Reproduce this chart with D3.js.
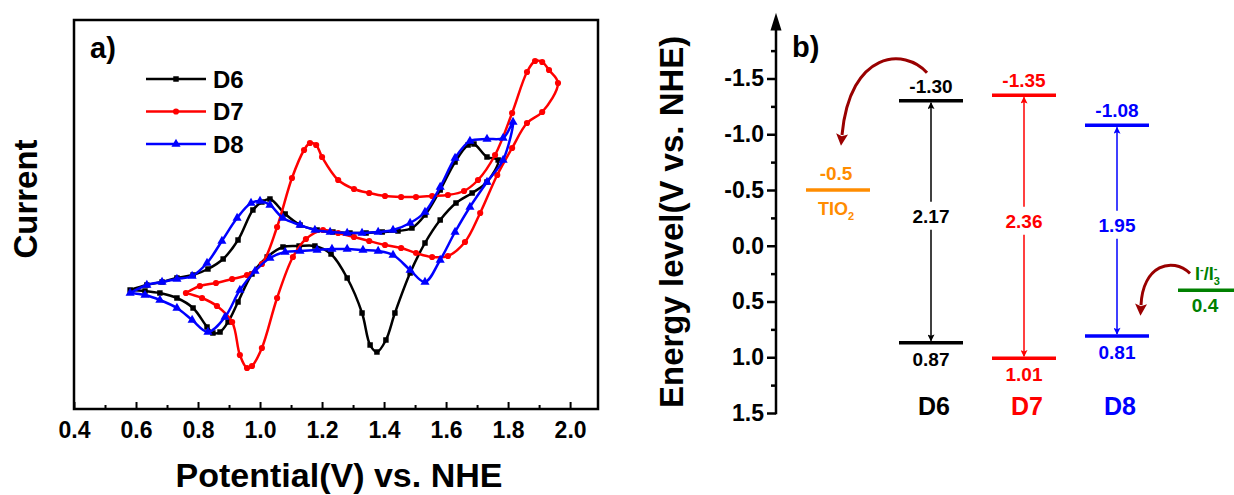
<!DOCTYPE html>
<html lang="en">
<head>
<meta charset="UTF-8">
<title>Cyclic voltammetry and energy levels</title>
<script src="https://d3js.org/d3.v7.min.js"></script>
<style>
  body { margin: 0; background: #fff; }
  svg text { font-family: "Liberation Sans", Arial, sans-serif; font-weight: bold; }
</style>
</head>
<body>
<div id="chart"></div>
<script>
// ---- panel a data: cyclic voltammograms (forward scan then reverse, closed loop)
const seriesNames = ["D6", "D7", "D8"];
const seriesColors = ["#000000", "#ff0000", "#0000ff"];
const seriesShapes = [d3.symbolSquare, d3.symbolCircle, d3.symbolTriangle];

const d6Potential = [0.581,0.635,0.684,0.732,0.784,0.832,0.881,0.929,0.977,1.006,1.032,1.081,1.129,1.184,1.235,1.290,1.342,1.394,1.445,1.490,1.532,1.581,1.629,1.671,1.690,1.732,1.768,
  1.732,1.684,1.632,1.581,1.532,1.484,1.435,1.406,1.377,1.355,1.329,1.281,1.229,1.177,1.126,1.074,1.023,0.974,0.929,0.897,0.871,0.848,0.829,0.784,0.732,0.677,0.629,0.581];
const d6Current = [11.9,12.4,12.7,13.1,13.4,14.0,15.0,16.9,19.9,20.7,21.0,19.5,18.4,17.9,17.7,17.6,17.6,17.7,17.8,18.1,19.4,21.9,24.7,26.4,26.5,25.2,24.9,
  22.7,21.6,20.6,18.9,16.6,13.6,9.6,6.9,5.7,6.4,9.6,13.1,15.5,16.3,16.3,16.2,15.2,13.5,10.7,8.7,7.7,7.6,8.2,10.1,11.1,11.6,11.8,11.9];

const d7Potential = [0.761,0.806,0.858,0.910,0.958,1.006,1.055,1.103,1.142,1.161,1.181,1.200,1.252,1.303,1.352,1.403,1.455,1.503,1.555,1.606,1.658,1.703,1.758,1.813,1.861,1.887,1.910,1.932,1.961,
  1.910,1.861,1.813,1.765,1.710,1.661,1.606,1.555,1.503,1.455,1.403,1.352,1.303,1.252,1.203,1.148,1.106,1.055,1.006,0.974,0.958,0.935,0.910,0.861,0.813,0.761];
const d7Current = [11.6,12.3,12.6,13.0,13.4,14.5,18.2,23.1,25.9,26.6,26.4,25.2,22.9,22.0,21.6,21.3,21.2,21.2,21.3,21.4,21.8,22.9,25.4,29.6,33.7,34.8,34.7,33.9,32.6,
  29.7,28.6,26.1,23.4,19.6,16.7,15.3,15.2,15.6,16.1,16.4,16.8,17.2,17.6,17.9,17.0,15.2,11.1,6.1,4.3,4.1,5.4,8.7,10.3,11.1,11.6];

const d8Potential = [0.581,0.635,0.684,0.732,0.781,0.829,0.877,0.926,0.971,1.000,1.032,1.074,1.129,1.177,1.226,1.281,1.329,1.381,1.429,1.484,1.532,1.581,1.629,1.677,1.732,1.784,1.816,
  1.784,1.732,1.677,1.629,1.581,1.532,1.484,1.429,1.381,1.332,1.281,1.232,1.184,1.129,1.081,1.032,0.984,0.935,0.887,0.832,0.781,0.732,0.677,0.629,0.581];
const d8Current = [11.6,12.4,12.7,13.0,13.3,14.6,16.8,19.1,20.6,20.8,20.4,19.1,18.4,17.9,17.7,17.6,17.6,17.7,17.9,18.6,19.7,22.2,25.1,26.8,27.0,27.1,28.7,
  24.9,22.7,20.2,17.7,14.9,12.7,13.9,15.4,15.8,15.9,16.0,16.0,15.9,15.8,15.7,15.1,13.8,11.9,9.2,7.7,8.9,10.1,10.9,11.4,11.6];

const potentialTicks = [0.4, 0.6, 0.8, 1.0, 1.2, 1.4, 1.6, 1.8, 2.0];
const potentialMinorTicks = [0.5, 0.7, 0.9, 1.1, 1.3, 1.5, 1.7, 1.9];

// ---- panel b data: energy levels (V vs. NHE)
const dyeNames = ["D6", "D7", "D8"];
const dyeLumo = [-1.30, -1.35, -1.08];
const dyeHomo = [0.87, 1.01, 0.81];
const dyeGap = ["2.17", "2.36", "1.95"];
const tio2Level = -0.5;
const redoxLevel = 0.4;
const energyTicks = [-1.5, -1.0, -0.5, 0.0, 0.5, 1.0, 1.5];
const energyMinorTicks = [-1.75, -1.25, -0.75, -0.25, 0.25, 0.75, 1.25];

const width = 1234, height = 495;
const svg = d3.select("#chart").append("svg")
  .attr("width", width).attr("height", height);

// ================= panel a =================
const xA = d3.scaleLinear().domain([0.4, 2.09]).range([74, 598]);
const yA = d3.scaleLinear().domain([0, 38.9]).range([409, 20]);

const gA = svg.append("g");

gA.append("rect")
  .attr("x", xA.range()[0]).attr("y", yA.range()[1])
  .attr("width", xA.range()[1] - xA.range()[0])
  .attr("height", yA.range()[0] - yA.range()[1])
  .attr("fill", "none").attr("stroke", "#000").attr("stroke-width", 2.5);

const axA = gA.append("g")
  .attr("transform", `translate(0,${yA.range()[0]})`)
  .call(d3.axisBottom(xA).tickValues(potentialTicks).tickSize(-7).tickPadding(13)
    .tickFormat(d => d.toFixed(1)));
axA.select(".domain").remove();
axA.selectAll(".tick line").attr("stroke-width", 2);
axA.selectAll(".tick text").attr("font-size", 23).attr("fill", "#000");

const axAm = gA.append("g")
  .attr("transform", `translate(0,${yA.range()[0]})`)
  .call(d3.axisBottom(xA).tickValues(potentialMinorTicks).tickSize(-4).tickFormat(""));
axAm.select(".domain").remove();
axAm.selectAll(".tick line").attr("stroke-width", 2);

const series = [
  {p: d6Potential, c: d6Current},
  {p: d7Potential, c: d7Current},
  {p: d8Potential, c: d8Current}
];

const line = d3.line()
  .x(d => xA(d[0])).y(d => yA(d[1]))
  .curve(d3.curveCatmullRom.alpha(0.5));

series.forEach((s, i) => {
  const pts = s.p.map((v, k) => [v, s.c[k]]);
  gA.append("path")
    .datum(pts)
    .attr("d", line)
    .attr("fill", "none")
    .attr("stroke", seriesColors[i])
    .attr("stroke-width", 2.5);
  const sym = d3.symbol().type(seriesShapes[i]).size(i === 2 ? 36 : 30);
  gA.append("g").selectAll("path")
    .data(pts.slice(0, -1))
    .join("path")
    .attr("d", sym)
    .attr("transform", d => `translate(${xA(d[0])},${yA(d[1])})`)
    .attr("fill", seriesColors[i]);
});

// legend
const legend = gA.append("g").attr("transform", "translate(146,79)");
seriesNames.forEach((name, i) => {
  const row = legend.append("g").attr("transform", `translate(0,${i * 32.5})`);
  row.append("line").attr("x1", 0).attr("x2", 60)
    .attr("stroke", seriesColors[i]).attr("stroke-width", 2.5);
  row.append("path")
    .attr("d", d3.symbol().type(seriesShapes[i]).size(i === 2 ? 36 : 30))
    .attr("transform", "translate(30,0)")
    .attr("fill", seriesColors[i]);
  row.append("text").attr("x", 67).attr("y", 8.5)
    .attr("font-size", 24).text(name);
});

gA.append("text").attr("x", 90).attr("y", 58).attr("font-size", 29).text("a)");

gA.append("text")
  .attr("x", (xA.range()[0] + xA.range()[1]) / 2 + 3).attr("y", 487)
  .attr("text-anchor", "middle").attr("font-size", 34)
  .text("Potential(V) vs. NHE");

gA.append("text")
  .attr("transform", "translate(37,199) rotate(-90)")
  .attr("text-anchor", "middle").attr("font-size", 33)
  .text("Current");

// ================= panel b =================
const yB = d3.scaleLinear().domain([-1.5, 1.5]).range([78.5, 413]);
const xB = d3.scalePoint().domain(["TiO2", ...dyeNames, "redox"]).range([838, 1210]);
const axisX = 776;
const barW = 64;

const gB = svg.append("g");
const defs = svg.append("defs");

function arrowMarker(id, color, w, h, ref) {
  defs.append("marker")
    .attr("id", id)
    .attr("viewBox", "0 0 10 10")
    .attr("refX", ref).attr("refY", 5)
    .attr("markerUnits", "userSpaceOnUse")
    .attr("markerWidth", w).attr("markerHeight", h)
    .attr("orient", "auto-start-reverse")
    .append("path").attr("d", "M0,0 L10,5 L0,10 L2,5 z").attr("fill", color);
}
dyeNames.forEach((n, i) => arrowMarker("gap" + i, seriesColors[i], 9, 7, 9));
arrowMarker("curved", "#990000", 19, 12, 1);

// axis
const axB = gB.append("g")
  .attr("transform", `translate(${axisX},0)`)
  .call(d3.axisLeft(yB).tickValues(energyTicks).tickSize(9).tickPadding(3)
    .tickFormat(d => d.toFixed(1)));
axB.select(".domain").remove();
axB.selectAll(".tick line").attr("stroke-width", 2.5);
axB.selectAll(".tick text").attr("font-size", 23).attr("fill", "#000");

const axBm = gB.append("g")
  .attr("transform", `translate(${axisX},0)`)
  .call(d3.axisLeft(yB).tickValues(energyMinorTicks).tickSize(5).tickFormat(""));
axBm.select(".domain").remove();
axBm.selectAll(".tick line").attr("stroke-width", 2.5);

gB.append("line")
  .attr("x1", axisX).attr("x2", axisX)
  .attr("y1", yB(1.5) + 1.2).attr("y2", yB(-1.98))
  .attr("stroke", "#000").attr("stroke-width", 2.5);
gB.append("path")
  .attr("d", d3.line()([[axisX - 5.5, yB(-1.93)], [axisX, yB(-2.09)], [axisX + 5.5, yB(-1.93)]]))
  .attr("fill", "#000");

gB.append("text")
  .attr("transform", `translate(683,${(yB(-2.09) + yB(1.5)) / 2 + 9}) rotate(-90)`)
  .attr("text-anchor", "middle").attr("font-size", 33)
  .text("Energy level(V vs. NHE)");

gB.append("text").attr("x", 792).attr("y", 57).attr("font-size", 29).text("b)");

// dye levels
dyeNames.forEach((name, i) => {
  const cx = xB(name), col = seriesColors[i];
  const yL = yB(dyeLumo[i]), yH = yB(dyeHomo[i]);
  [yL, yH].forEach(y => {
    gB.append("line").attr("x1", cx - barW / 2).attr("x2", cx + barW / 2)
      .attr("y1", y).attr("y2", y)
      .attr("stroke", col).attr("stroke-width", 3.5);
  });
  gB.append("text").attr("x", cx).attr("y", yL - 8)
    .attr("text-anchor", "middle").attr("font-size", 19).attr("fill", col)
    .text(dyeLumo[i].toFixed(2));
  gB.append("text").attr("x", cx).attr("y", yH + 23)
    .attr("text-anchor", "middle").attr("font-size", 19).attr("fill", col)
    .text(dyeHomo[i].toFixed(2));
  const mid = (yL + yH) / 2 + 1;
  gB.append("text").attr("x", cx).attr("y", mid)
    .attr("text-anchor", "middle").attr("font-size", 19).attr("fill", col)
    .text(dyeGap[i]);
  gB.append("line").attr("x1", cx).attr("x2", cx)
    .attr("y1", mid - 21).attr("y2", yL + 2)
    .attr("stroke", col).attr("stroke-width", 1.5)
    .attr("marker-end", `url(#gap${i})`);
  gB.append("line").attr("x1", cx).attr("x2", cx)
    .attr("y1", mid + 7).attr("y2", yH - 2)
    .attr("stroke", col).attr("stroke-width", 1.5)
    .attr("marker-end", `url(#gap${i})`);
  gB.append("text").attr("x", cx + 3).attr("y", 415)
    .attr("text-anchor", "middle").attr("font-size", 25).attr("fill", col)
    .text(name);
});

// TiO2 conduction band
const tx = xB("TiO2"), ty = yB(tio2Level);
gB.append("line").attr("x1", tx - barW / 2).attr("x2", tx + barW / 2)
  .attr("y1", ty).attr("y2", ty).attr("stroke", "#ff8c00").attr("stroke-width", 3.5);
gB.append("text").attr("x", tx - 2).attr("y", ty - 10)
  .attr("text-anchor", "middle").attr("font-size", 19).attr("fill", "#ff8c00")
  .text(tio2Level.toFixed(1));
const tioLabel = gB.append("text").attr("x", tx - 2).attr("y", ty + 25)
  .attr("text-anchor", "middle").attr("font-size", 18).attr("fill", "#ff8c00");
tioLabel.append("tspan").text("TIO");
tioLabel.append("tspan").attr("font-size", 11).attr("dy", 5).text("2");

// I-/I3- redox level
const rx = xB("redox"), ry = yB(redoxLevel);
gB.append("line").attr("x1", rx - barW / 2).attr("x2", rx + barW / 2)
  .attr("y1", ry).attr("y2", ry).attr("stroke", "#008000").attr("stroke-width", 3.5);
gB.append("text").attr("x", rx - 5).attr("y", ry + 22)
  .attr("text-anchor", "middle").attr("font-size", 19).attr("fill", "#008000")
  .text(redoxLevel.toFixed(1));
const redoxLabel = gB.append("text").attr("x", rx - 15).attr("y", ry - 10)
  .attr("font-size", 18).attr("fill", "#008000");
redoxLabel.append("tspan").text("I");
redoxLabel.append("tspan").attr("font-size", 11).attr("dy", -7).text("-");
redoxLabel.append("tspan").attr("dy", 7).text("/I");
redoxLabel.append("tspan").attr("font-size", 11).attr("dy", 5).text("3");
redoxLabel.append("tspan").attr("font-size", 11).attr("dx", -6).attr("dy", -13).text("-");

// electron transfer arrows
const d6x = xB("D6"), d8x = xB("D8");
const inj = d3.path();
inj.moveTo(d6x - 4, yB(dyeLumo[0]) - 28);
inj.bezierCurveTo(d6x - 26, yB(dyeLumo[0]) - 53, tx + 12, yB(dyeLumo[0]) - 51, tx + 4, ty - 55);
gB.append("path").attr("d", inj.toString())
  .attr("fill", "none").attr("stroke", "#990000").attr("stroke-width", 3)
  .attr("marker-end", "url(#curved)");

const reg = d3.path();
reg.moveTo(rx - 20, ry - 17);
reg.bezierCurveTo(rx - 38, ry - 34, rx - 67, ry - 25, d8x + 24, yB(dyeHomo[2]) - 31);
gB.append("path").attr("d", reg.toString())
  .attr("fill", "none").attr("stroke", "#990000").attr("stroke-width", 3)
  .attr("marker-end", "url(#curved)");
</script>
</body>
</html>
